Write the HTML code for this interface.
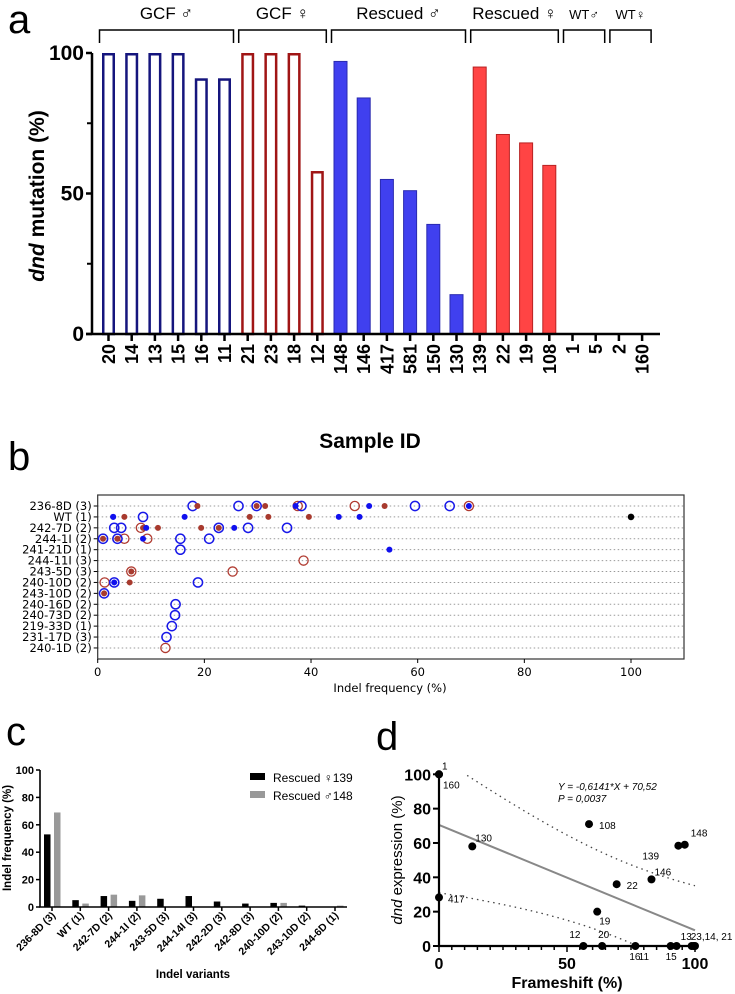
<!DOCTYPE html>
<html><head><meta charset="utf-8">
<style>
html,body{margin:0;padding:0;background:#fff;}
svg{display:block;font-family:"Liberation Sans","DejaVu Sans",sans-serif;}
</style></head>
<body>
<svg id="fig" width="735" height="994" viewBox="0 0 735 994" xmlns="http://www.w3.org/2000/svg">
<text x="8" y="33" font-size="40">a</text>
<text x="8" y="470" font-size="40">b</text>
<text x="6" y="745" font-size="40">c</text>
<text x="376" y="750" font-size="40">d</text>
<g id="pa"></g>
<g id="pb"></g>
<g id="pc"></g>
<g id="pd"></g>
</svg>
<script>
// ---------- Panel a data ----------
const aSamples = ["20","14","13","15","16","11","21","23","18","12","148","146","417","581","150","130","139","22","19","108","1","5","2","160"];
const aValues = [100,100,100,100,91,91,100,100,100,58,97,84,55,51,39,14,95,71,68,60,0,0,0,0];
const aGroups = ["gcfM","gcfM","gcfM","gcfM","gcfM","gcfM","gcfF","gcfF","gcfF","gcfF","resM","resM","resM","resM","resM","resM","resF","resF","resF","resF","wt","wt","wt","wt"];
const aYTicks = [0,50,100];
const aBrackets = [["GCF ♂",0,5],["GCF ♀",6,9],["Rescued ♂",10,15],["Rescued ♀",16,19],["WT♂",20,21],["WT♀",22,23]];

// ---------- Panel b data ----------
const bRows = ["236-8D (3)","WT (1)","242-7D (2)","244-1I (2)","241-21D (1)","244-11I (3)","243-5D (3)","240-10D (2)","243-10D (2)","240-16D (2)","240-73D (2)","219-33D (1)","231-17D (3)","240-1D (2)"];
const bXTicks = [0,20,40,60,80,100];
const bOpenBlueRow = [0,0,0,0,0,0,1,2,2,2,2,2,3,3,3,3,4,7,9,10,11,12];
const bOpenBlueVal = [17.8,26.4,29.8,38.2,59.5,66,8.5,3.1,4.4,22.7,28.2,35.5,1,3.7,15.5,20.9,15.5,18.8,14.6,14.5,13.9,12.9];
const bOpenBlue2Row = [7,8];
const bOpenBlue2Val = [3.1,1.2];
const bOpenRedRow = [0,0,0,2,3,5,6,6,7,13];
const bOpenRedVal = [37.5,48.2,69.6,8.1,5,38.6,6.3,25.3,1.3,12.7];
const bOpenRed2Row = [3];
const bOpenRed2Val = [9.3];
const bFillBlueRow = [0,0,0,1,1,1,1,1,2,2,3,4,7];
const bFillBlueVal = [37.1,50.9,69.6,2.9,16.3,45.2,49.1,2.9,9.1,25.6,8.5,54.7,3.1];
const bFillRedRow = [0,0,0,0,1,1,1,1,2,2,2,2,3,3,6,7,8];
const bFillRedVal = [18.7,29.8,31.4,53.8,5,28.5,32,39.6,8.5,11.3,19.4,22.7,1,3.7,6.3,6,1.2];
const bBlackRow = [1];
const bBlackVal = [100];

// ---------- Panel c data ----------
const cCats = ["236-8D (3)","WT (1)","242-7D (2)","244-1I (2)","243-5D (3)","244-14I (3)","242-2D (3)","242-8D (3)","240-10D (2)","243-10D (2)","244-6D (1)"];
const cFemale139 = [53,5,8,4.5,6,8,4,2.5,3,1,0];
const cMale148 = [69,2.5,9,8.5,0,0,0,0,3,0,1];
const cYTicks = [0,20,40,60,80,100];

// ---------- Panel d data ----------
const dLabels = ["1","160","130","417","108","22","19","146","139","148","12","20","16","11","15","13","23","14"];
const dFrameshift = [0,0,13,0,58.6,69.4,61.8,83,93.5,96,56.4,63.7,76.7,90.5,92.8,98.7,99.5,100];
const dExpression = [100,100,58,28.3,71,36,20,38.8,58.4,59,0,0,0,0,0,0,0,0];
const dSlope = -0.6141, dIntercept = 70.52;
const dXTicks = [0,50,100];
const dYTicks = [0,20,40,60,80,100];

const NS="http://www.w3.org/2000/svg";
function mk(parent,tag,attrs,txt){const e=document.createElementNS(NS,tag);for(const k in attrs)e.setAttribute(k,attrs[k]);if(txt!==undefined)e.textContent=txt;parent.appendChild(e);return e;}

// ===== Panel A =====
(function(){
  const g=document.getElementById('pa');
  const y0=334,y100=53,xs=i=>108.5+i*23.2,ys=v=>y0+(y100-y0)*v/100;
  const col={gcfM:["#fff","#15157d"],gcfF:["#fff","#a01515"],resM:["#4040ef","#2a2ab0"],resF:["#ff4444","#b82222"],wt:["#fff","#000"]};
  aValues.forEach((v,i)=>{
    if(v<=0)return;
    const c=col[aGroups[i]],open=aGroups[i].startsWith('gcf');
    const r=mk(g,'rect',{x:xs(i)-6.5+(open?1.25:0),y:ys(v)+(open?1.25:0),width:13-(open?2.5:0),height:y0-ys(v)-(open?1.25:0),fill:c[0],stroke:c[1],'stroke-width':open?2.5:1});
    
    
  });
  const ax=mk(g,'path',{d:`M92,${y100}V${y0}M86,${y0}H660`,stroke:'#000','stroke-width':2.5,fill:'none'});
  
  aYTicks.forEach(t=>{
    mk(g,'line',{x1:86,x2:92,y1:ys(t),y2:ys(t),stroke:'#000','stroke-width':2.5});
    const tl=mk(g,'text',{x:84,y:ys(t)+7,'text-anchor':'end','font-size':21,'font-weight':'bold'},String(t));
    
  });
  [25,75].forEach(t=>mk(g,'line',{x1:87,x2:92,y1:ys(t),y2:ys(t),stroke:'#000','stroke-width':2}));
  aSamples.forEach((s,i)=>{
    mk(g,'line',{x1:xs(i),x2:xs(i),y1:y0,y2:y0+7,stroke:'#000','stroke-width':2.5});
    const t=mk(g,'text',{transform:`translate(${xs(i)+6.5},${y0+10}) rotate(-90)`,'text-anchor':'end','font-size':18,'font-weight':'bold'},s);
    
  });
  aBrackets.forEach(b=>{
    const x1=xs(b[1])-9,x2=xs(b[2])+9;
    const p=mk(g,'path',{d:`M${x1},43V30H${x2}V43`,stroke:'#000','stroke-width':1.5,fill:'none'});
    
    const wt=b[0].startsWith('WT');
    const t=mk(g,'text',{x:(x1+x2)/2,y:19,'text-anchor':'middle','font-size':wt?13:17},b[0]);
    
  });
  const yt=mk(g,'text',{transform:'translate(44,196) rotate(-90)','text-anchor':'middle','font-size':21,'font-weight':'bold'});
  
  mk(yt,'tspan',{'font-style':'italic'},'dnd');mk(yt,'tspan',{},' mutation  (%)');
  const xt=mk(g,'text',{x:370,y:448,'text-anchor':'middle','font-size':21,'font-weight':'bold'},'Sample ID');
  
})();

// ===== Panel B =====
(function(){
  const g=document.getElementById('pb');
  const L=97.7,R=684,T=495,B=659;
  const xs=v=>L+v*5.333,ry=r=>506+r*10.92;
  const fr=mk(g,'rect',{x:L,y:T,width:R-L,height:B-T,fill:'none',stroke:'#333','stroke-width':1.2});
  
  bRows.forEach((r,i)=>{
    mk(g,'line',{x1:L,x2:R,y1:ry(i),y2:ry(i),stroke:'#999','stroke-width':1,'stroke-dasharray':'1.5,2.5'});
    mk(g,'line',{x1:L-4,x2:L,y1:ry(i),y2:ry(i),stroke:'#000','stroke-width':1});
    const t=mk(g,'text',{x:L-6,y:ry(i)+4,'text-anchor':'end','font-size':11.5,'font-family':'DejaVu Sans, sans-serif'},r);
    
  });
  bXTicks.forEach(v=>{
    mk(g,'line',{x1:xs(v),x2:xs(v),y1:B,y2:B+4,stroke:'#000','stroke-width':1});
    const t=mk(g,'text',{x:xs(v),y:B+17,'text-anchor':'middle','font-size':11.5,'font-family':'DejaVu Sans, sans-serif'},String(v));
    
  });
  const xt=mk(g,'text',{x:390,y:692,'text-anchor':'middle','font-size':11.5,'font-family':'DejaVu Sans, sans-serif'},'Indel frequency (%)');
  
  function pts(rows,vals,r,fill,stroke,sw,name){
    rows.forEach((row,i)=>{
      const c=mk(g,'circle',{cx:xs(vals[i]),cy:ry(row),r:r,fill:fill,stroke:stroke,'stroke-width':sw});
      
    });
  }
  pts(bOpenRedRow,bOpenRedVal,4.6,'none','#b03a30',1.3,'open-red-point');
  pts(bOpenRed2Row,bOpenRed2Val,4.6,'none','#b03a30',1.3,'open-red-point');
  pts(bOpenBlueRow,bOpenBlueVal,4.6,'none','#1818e8',1.5,'open-blue-point');
  pts(bOpenBlue2Row,bOpenBlue2Val,4.6,'none','#1818e8',1.5,'open-blue-point');
  pts(bFillRedRow,bFillRedVal,3,'#a83a2e','none',0,'filled-red-point');
  pts(bFillBlueRow,bFillBlueVal,3,'#1010ee','none',0,'filled-blue-point');
  pts(bBlackRow,bBlackVal,3.3,'#000','none',0,'wt-point');
})();

// ===== Panel C =====
(function(){
  const g=document.getElementById('pc');
  const y0=907,y100=770,xs=i=>52+i*28.3,ys=v=>y0+(y100-y0)*v/100;
  cCats.forEach((c,i)=>{
    const v1=cFemale139[i],v2=cMale148[i];
    const b1=mk(g,'rect',{x:xs(i)-8,y:ys(v1),width:6.5,height:y0-ys(v1),fill:'#000'});
    
    const b2=mk(g,'rect',{x:xs(i)+2,y:ys(v2),width:6.5,height:y0-ys(v2),fill:'#999'});
    
    mk(g,'line',{x1:xs(i),x2:xs(i),y1:y0,y2:y0+4,stroke:'#000','stroke-width':1.5});
    const t=mk(g,'text',{transform:`translate(${xs(i)+4},${y0+9}) rotate(-45)`,'text-anchor':'end','font-size':10.5,'font-weight':'bold'},c);
    
  });
  const ax=mk(g,'path',{d:`M40,${y100}V${y0}H347`,stroke:'#000','stroke-width':1.6,fill:'none'});
  
  cYTicks.forEach(t=>{
    mk(g,'line',{x1:36,x2:40,y1:ys(t),y2:ys(t),stroke:'#000','stroke-width':1.5});
    const l=mk(g,'text',{x:34,y:ys(t)+4,'text-anchor':'end','font-size':11,'font-weight':'bold'},String(t));
    
  });
  const yt=mk(g,'text',{transform:'translate(11,838) rotate(-90)','text-anchor':'middle','font-size':11.5,'font-weight':'bold'},'Indel frequency (%)');
  
  const xt=mk(g,'text',{x:193,y:978,'text-anchor':'middle','font-size':11.5,'font-weight':'bold'},'Indel variants');
  
  const lg=mk(g,'g',{});
  mk(lg,'rect',{x:250,y:773,width:15,height:7,fill:'#000'});
  mk(lg,'rect',{x:250,y:791,width:15,height:7,fill:'#999'});
  mk(lg,'text',{x:273,y:782,'font-size':12},'Rescued ♀139');
  mk(lg,'text',{x:273,y:800,'font-size':12},'Rescued ♂148');
})();

// ===== Panel D =====
(function(){
  const g=document.getElementById('pd');
  const X0=439,X1=695,Y0=946,Y1=774.3;
  const xs=v=>X0+(X1-X0)*v/100,ys=v=>Y0+(Y1-Y0)*v/100;
  const A=518.5,Bc=0.2009,m=72;
  let up=[],lo=[];
  for(let x=0;x<=100;x+=1){
    const c=dSlope*x+dIntercept,h=Math.sqrt(A+Bc*(x-m)*(x-m));
    if(c+h<=100)up.push(xs(x)+','+ys(c+h));
    if(c-h>=0)lo.push(xs(x)+','+ys(c-h));
  }
  const u=mk(g,'polyline',{points:up.join(' '),fill:'none',stroke:'#444','stroke-width':1.3,'stroke-dasharray':'1.5,4'});
  
  const l=mk(g,'polyline',{points:lo.join(' '),fill:'none',stroke:'#444','stroke-width':1.3,'stroke-dasharray':'1.5,4'});
  
  const rl=mk(g,'line',{x1:xs(0),y1:ys(dIntercept),x2:xs(100),y2:ys(dSlope*100+dIntercept),stroke:'#888','stroke-width':2});
  
  const ax=mk(g,'path',{d:`M${X0},${Y1}V${Y0}H${X1+3}`,stroke:'#000','stroke-width':2.2,fill:'none'});
  
  dYTicks.forEach(t=>{
    mk(g,'line',{x1:X0-6,x2:X0,y1:ys(t),y2:ys(t),stroke:'#000','stroke-width':2});
    const tl=mk(g,'text',{x:X0-8,y:ys(t)+6,'text-anchor':'end','font-size':16,'font-weight':'bold'},String(t));
    
  });
  for(let v=0;v<=100;v+=5){mk(g,'line',{x1:xs(v),x2:xs(v),y1:Y0,y2:Y0+(v%50===0?6:4),stroke:'#000','stroke-width':1.5});}
  dXTicks.forEach(t=>{
    const tl=mk(g,'text',{x:xs(t),y:Y0+23,'text-anchor':'middle','font-size':16,'font-weight':'bold'},String(t));
    
  });
  const off={"1":[3,-5],"160":[4,14],"130":[3,-5],"417":[9,5],"108":[10,5],"22":[10,5],"19":[2,13],"146":[3,-4],"139":[-36,14],"148":[6,-8],"12":[-14,-8],"20":[-4,-8],"16":[-6,14],"11":[-32,14],"15":[-11,14],"13":[-11,-6],"23":[-3,-6],"14":[-3,-6]};
  const txt={"23":"23,14, 21","14":""};
  dLabels.forEach((lab,i)=>{
    const cx=xs(dFrameshift[i]),cy=ys(dExpression[i]);
    const c=mk(g,'circle',{cx:cx,cy:cy,r:4,fill:'#000'});
    
    const s=(lab in txt)?txt[lab]:lab;
    if(s){const o=off[lab];
      const t=mk(g,'text',{x:cx+o[0],y:cy+o[1],'font-size':10},s);
      }
  });
  const e1=mk(g,'text',{x:558,y:790,'font-size':10,'font-style':'italic'},'Y = -0,6141*X + 70,52');
  
  const e2=mk(g,'text',{x:558,y:802,'font-size':10,'font-style':'italic'},'P = 0,0037');
  
  const yt=mk(g,'text',{transform:'translate(402,860) rotate(-90)','text-anchor':'middle','font-size':15});
  
  mk(yt,'tspan',{'font-style':'italic'},'dnd');mk(yt,'tspan',{},' expression (%)');
  const xt=mk(g,'text',{x:567,y:988,'text-anchor':'middle','font-size':16,'font-weight':'bold'},'Frameshift (%)');
  
})();
</script>
</body></html>
